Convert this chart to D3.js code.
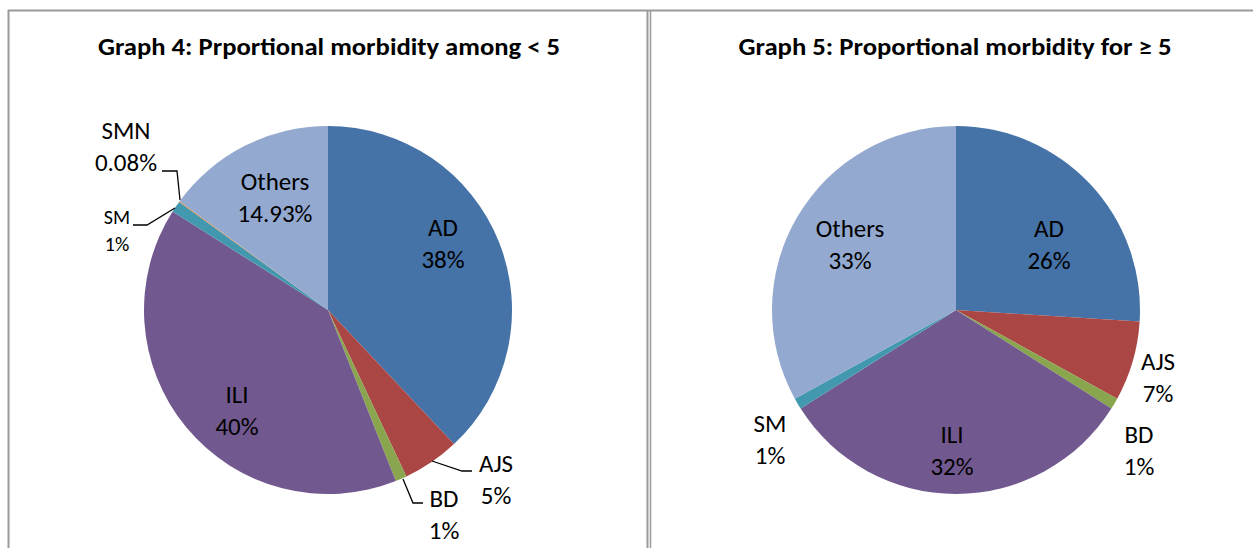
<!DOCTYPE html>
<html><head><meta charset="utf-8">
<script src="https://cdn.jsdelivr.net/npm/d3@7"></script>
<style>
html,body{margin:0;padding:0;background:#fff;}
svg{display:block;}
text{font-family:Carlito,Lato,"Liberation Sans",sans-serif;fill:#000;}
</style></head>
<body>
<svg id="c" width="1253" height="548"></svg>
<script>
// Data
const categories1 = ["AD","AJS","BD","ILI","SM","SMN","Others"];
const values1 = [38, 5, 1, 40, 1, 0.08, 14.93];
const labels1 = ["38%","5%","1%","40%","1%","0.08%","14.93%"];
const categories2 = ["AD","AJS","BD","ILI","SM","Others"];
const values2 = [26, 7, 1, 32, 1, 33];
const labels2 = ["26%","7%","1%","32%","1%","33%"];
const titles = ["Graph 4: Prportional morbidity among < 5", "Graph 5: Proportional morbidity for \u2265 5"];

const colorMap = {AD:"#4572A7",AJS:"#AA4643",BD:"#89A54E",ILI:"#71588F",SM:"#4198AF",SMN:"#DB843D",Others:"#93A9CF"};

const svg = d3.select("#c");
// panel borders
const border = "#9a9a9a";
svg.append("line").attr("x1",8).attr("x2",1253).attr("y1",10.5).attr("y2",10.5).attr("stroke",border).attr("stroke-width",2);
svg.append("line").attr("x1",8.5).attr("x2",8.5).attr("y1",10).attr("y2",548).attr("stroke",border).attr("stroke-width",2);
svg.append("line").attr("x1",647.5).attr("x2",647.5).attr("y1",10).attr("y2",548).attr("stroke",border).attr("stroke-width",2);
svg.append("line").attr("x1",650.5).attr("x2",650.5).attr("y1",10).attr("y2",548).attr("stroke",border).attr("stroke-width",1.5);

function drawPie(cx, cy, r, cats, vals, labs, title, titleX, titleW, labelPos){
  const g = svg.append("g").attr("transform",`translate(${cx},${cy})`);
  const data = cats.map((c,i)=>({cat:c, v:vals[i], lab:labs[i]}));
  const pie = d3.pie().value(d=>d.v).sort(null);
  const arc = d3.arc().innerRadius(0).outerRadius(r);
  g.selectAll("path").data(pie(data)).join("path")
    .attr("d",arc).attr("fill",d=>colorMap[d.data.cat]);
  svg.append("text").attr("x",titleX).attr("y",55).attr("text-anchor","middle")
    .attr("font-weight","bold").attr("font-size",23.5)
    .attr("textLength",titleW).attr("lengthAdjust","spacingAndGlyphs").text(title);
  data.forEach(d=>{
    const p = labelPos[d.cat]; if(!p) return;
    const t = svg.append("text").attr("text-anchor","middle").attr("font-size",p.fs||25);
    t.append("tspan").attr("x",p.x).attr("y",p.y).text(d.cat);
    t.append("tspan").attr("x",p.x).attr("y",p.y+(p.dy||32)).text(d.lab);
    if(p.line){
      svg.append("polyline").attr("points",p.line.map(q=>q.join(",")).join(" "))
        .attr("fill","none").attr("stroke","#000").attr("stroke-width",1.3);
    }
  });
}

drawPie(328,310,184,categories1,values1,labels1,titles[0],329,462,{
  AD:{x:443,y:236},
  Others:{x:275,y:190},
  ILI:{x:237,y:403},
  SMN:{x:126,y:139},
  SM:{x:117,y:224,fs:20,dy:27,line:[[133,225],[147,225],[175,208]]},
  AJS:{x:496,y:472,line:[[472,471],[462,471],[432,461]]},
  BD:{x:444,y:507,line:[[423,503],[413,503],[403,479]]}
});
// SMN leader
svg.append("polyline").attr("points","162,171 177,171 180,200").attr("fill","none").attr("stroke","#000").attr("stroke-width",1.3);

drawPie(956,310,184,categories2,values2,labels2,titles[1],955,433,{
  AD:{x:1049,y:237},
  Others:{x:850,y:237},
  AJS:{x:1158,y:370},
  BD:{x:1139,y:443},
  ILI:{x:952,y:443},
  SM:{x:770,y:432}
});
</script>
</body></html>
